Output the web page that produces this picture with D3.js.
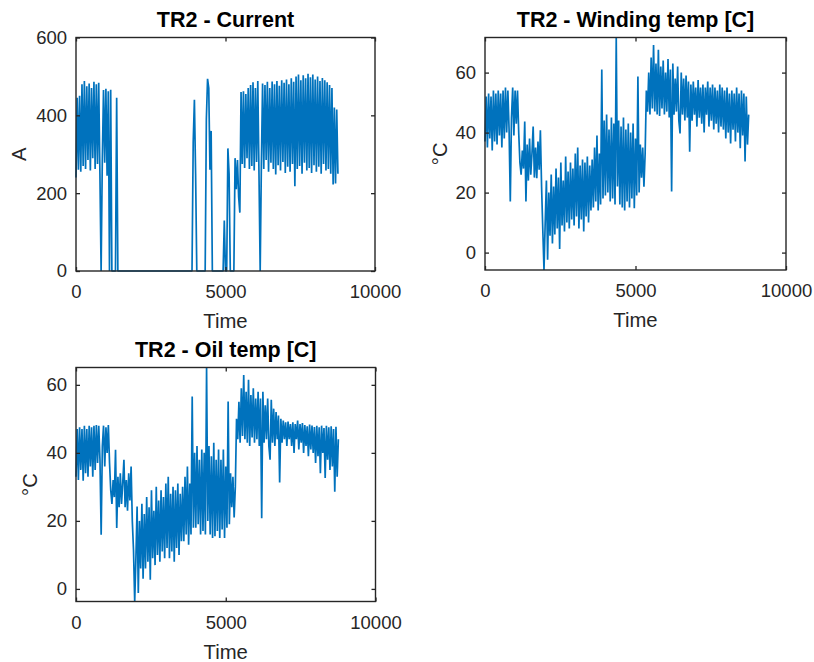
<!DOCTYPE html>
<html>
<head>
<meta charset="utf-8">
<script src="https://cdn.jsdelivr.net/npm/d3@7"></script>
<style>
body { margin: 0; background: #fff; }
text { font-family: Arial, "Liberation Sans", sans-serif; fill: #262626; }
</style>
</head>
<body>
<div id="container"></div>
<script>

// hours between two samples
var timeStep = 40;

// TR2 current [A], one value per sample
var currentA = [
	240, 445, 260, 450, 255, 480, 270, 488, 262, 475,
	285, 482, 258, 470, 290, 486, 262, 480, 275, 484,
	250, 0, 285, 465, 278, 468, 245, 462, 0, 466,
	0, 0, 0, 0, 445, 0, 0, 0, 0, 0,
	0, 0, 0, 0, 0, 0, 0, 0, 0, 0,
	0, 0, 0, 0, 0, 0, 0, 0, 0, 0,
	0, 0, 0, 0, 0, 0, 0, 0, 0, 0,
	0, 0, 0, 0, 0, 0, 0, 0, 0, 0,
	0, 0, 0, 0, 0, 0, 0, 0, 0, 0,
	0, 0, 0, 0, 0, 0, 0, 0, 330, 440,
	250, 0, 0, 0, 0, 0, 0, 0, 0, 390,
	494, 470, 260, 360, 0, 0, 0, 0, 0, 0,
	0, 0, 0, 0, 130, 0, 0, 315, 250, 0,
	0, 0, 0, 290, 210, 285, 190, 150, 460, 275,
	462, 265, 455, 290, 470, 262, 478, 270, 485, 258,
	470, 280, 488, 250, 0, 275, 482, 262, 478, 285,
	486, 255, 470, 278, 487, 262, 480, 248, 488, 272,
	476, 258, 490, 280, 484, 252, 492, 268, 480, 255,
	495, 275, 486, 218, 500, 262, 505, 270, 490, 250,
	503, 278, 495, 258, 507, 265, 498, 252, 505, 272,
	492, 255, 500, 268, 488, 250, 496, 275, 490, 258,
	485, 262, 478, 250, 470, 222, 420, 225, 415, 250
];

// TR2 winding temperature [C]
var windingTemp = [
	37, 52, 35, 53, 38, 52, 34, 54, 37, 53,
	36, 54, 39, 53, 35, 54, 38, 55, 40, 54,
	41, 17, 45, 55, 39, 54, 43, 54, 40, 30,
	26, 34, 28, 43.7, 17, 36, 24, 38, 26, 33,
	42, 25, 35, 24.8, 37, 27.6, 40.8, 21.9, 7.6, -5.8,
	10, 24, -2.4, 20, 5.6, 26, 3, 22, 6, 28,
	8, 25, 1.2, 30, 9, 24, 7, 32, 10, 27,
	8, 30, 11, 28, 9, 33, 12, 35, 8, 29,
	11, 31, 7, 30, 12, 32, 10, 29, 14, 31,
	15, 35, 17, 39, 14, 33, 16, 61, 18, 44,
	19, 46, 20, 41, 17, 45, 18, 43, 16, 71.7,
	22, 44, 16, 42, 15, 45, 14, 41, 17, 43,
	15, 40, 18, 43, 14.8, 38, 19, 58.7, 20, 36,
	25, 35, 22, 33, 54, 47, 60, 46, 65, 48,
	69.2, 47, 63, 46, 67.6, 45.5, 62, 48, 64, 46,
	60, 47, 64.5, 45, 61, 20.4, 63, 46, 58, 47,
	62, 44, 39.7, 60, 46, 58, 44, 59, 45, 57,
	33.6, 56, 44, 57, 46, 55, 42, 57.5, 45, 55,
	43, 56, 40, 55, 46, 57, 42, 55, 44, 56,
	41, 55, 43, 54, 40, 56, 42, 55, 41, 54,
	38, 55, 40, 53, 36.4, 54, 41, 53, 37, 55,
	40, 53, 34.8, 54, 39, 53, 30.4, 52, 36, 46
];

// TR2 oil temperature [C]
var oilTemp = [
	33, 47, 32, 47.5, 35, 47, 31.8, 48, 34, 47,
	33, 48, 36, 47.5, 33, 48, 35, 48.2, 37, 48,
	38, 15.9, 42, 48, 36, 47.5, 40, 48.2, 37, 29,
	25, 32, 27, 40.9, 17.9, 33, 24, 34, 25, 31,
	38, 24, 32, 23, 34, 26, 36, 20, 11.5, -3.7,
	9, 24.2, -1.2, 20, 6, 25, 3, 22, 6, 27,
	8, 24, 2.7, 29, 9, 23, 7, 30, 10, 26,
	8, 29, 11, 27, 9, 31, 12, 33, 9, 28,
	11, 30, 8, 29, 12, 31, 10, 28, 14, 30,
	14, 33, 16, 36, 13, 31, 16, 56.6, 18, 40,
	18, 42, 19, 38, 16, 41, 17, 40, 16, 65.1,
	20, 42, 16, 39, 15, 43, 15.5, 38, 17, 41,
	15, 38, 17.5, 41, 15, 36, 18, 55.1, 19, 34,
	24, 33, 21, 30, 50, 44, 55, 43, 59, 45,
	62.9, 44, 58, 43, 61.5, 42, 57, 44.5, 59, 43,
	56, 44, 58, 42, 56, 20.8, 58, 43, 54, 44,
	56, 42, 38, 55.6, 43, 53, 42, 52, 44, 51,
	31.3, 50, 43, 49.5, 44, 49, 42, 49.2, 44, 48.5,
	42, 49, 40, 48.5, 44, 49.5, 41, 48.5, 43, 48.8,
	40, 48.2, 42, 47.8, 39, 48.3, 41, 48, 40, 47.6,
	37, 48, 39, 47.5, 34, 48, 40, 47.3, 32.6, 48,
	38, 47.5, 35, 47.8, 36, 47, 28.6, 47.7, 33, 44
];

// titles and tick labels
var titles = ["TR2 - Current", "TR2 - Winding temp [C]", "TR2 - Oil temp [C]"];
var yLabels = ["A", "\u00B0C", "\u00B0C"];
var xLabel = "Time";
var xTicks = [0, 5000, 10000];
var currentTicks = [0, 200, 400, 600];
var tempTicks = [0, 20, 40, 60];

// function to draw one subplot
function drawPanel(svg, p) {

	var x = d3.scaleLinear()
		.domain([0, 10000])
		.range([p.left, p.left + p.width]);

	var y = d3.scaleLinear()
		.domain(p.domain)
		.range([p.top + p.height, p.top]);

	var line = d3.line()
		.x(function(d, i) { return x(i * timeStep); })
		.y(function(d) { return y(d); });

	// the series itself, thick enough that the dense swings read as a band
	svg.append("path")
		.datum(p.values)
		.attr("d", line)
		.attr("fill", "none")
		.attr("stroke", "#0072BD")
		.attr("stroke-width", 1.7)
		.attr("stroke-linejoin", "bevel");

	// ticks on all four sides, pointing inwards
	var bottomAxis = svg.append("g")
		.attr("transform", "translate(0," + (p.top + p.height) + ")")
		.call(d3.axisBottom(x).tickValues(xTicks).tickSizeInner(-4).tickSizeOuter(0)
			.tickPadding(14).tickFormat(d3.format("d")));
	var leftAxis = svg.append("g")
		.attr("transform", "translate(" + p.left + ",0)")
		.call(d3.axisLeft(y).tickValues(p.ticks).tickSizeInner(-4).tickSizeOuter(0)
			.tickPadding(9).tickFormat(d3.format("d")));
	var topAxis = svg.append("g")
		.attr("transform", "translate(0," + p.top + ")")
		.call(d3.axisTop(x).tickValues(xTicks).tickSizeInner(-4).tickSizeOuter(0).tickFormat(""));
	var rightAxis = svg.append("g")
		.attr("transform", "translate(" + (p.left + p.width) + ",0)")
		.call(d3.axisRight(y).tickValues(p.ticks).tickSizeInner(-4).tickSizeOuter(0).tickFormat(""));

	[bottomAxis, leftAxis, topAxis, rightAxis].forEach(function(a) {
		a.select(".domain").remove();
		a.selectAll(".tick line").attr("stroke", "#262626").attr("stroke-width", 1.3);
		a.selectAll("text").style("font-size", "18.5px");
	});

	// box around the axes
	svg.append("rect")
		.attr("x", p.left)
		.attr("y", p.top)
		.attr("width", p.width)
		.attr("height", p.height)
		.attr("fill", "none")
		.attr("stroke", "#262626")
		.attr("stroke-width", 1.4);

	// title and axis labels
	svg.append("text")
		.attr("x", p.left + p.width / 2)
		.attr("y", p.top - 11)
		.style("text-anchor", "middle")
		.style("font-size", "21.5px")
		.style("font-weight", "bold")
		.style("fill", "#000")
		.text(p.title);
	svg.append("text")
		.attr("x", p.left + p.width / 2)
		.attr("y", p.top + p.height + 57)
		.style("text-anchor", "middle")
		.style("font-size", "20.3px")
		.text(xLabel);
	svg.append("text")
		.attr("transform", "translate(" + (p.left - p.labelGap) + "," + (p.top + p.height / 2) + ") rotate(-90)")
		.style("text-anchor", "middle")
		.style("font-size", "20.3px")
		.text(p.yLabel);
}

var svg = d3.select("#container")
	.append("svg")
	.attr("width", 814)
	.attr("height", 662)
	.style("background", "#fff");

var panels = [
	{title: titles[0], yLabel: yLabels[0], values: currentA, domain: [0, 600], ticks: currentTicks,
		left: 76, top: 37.5, width: 299, height: 233.5, labelGap: 50},
	{title: titles[1], yLabel: yLabels[1], values: windingTemp, domain: d3.extent(windingTemp), ticks: tempTicks,
		left: 485, top: 37.5, width: 301, height: 232.5, labelGap: 38},
	{title: titles[2], yLabel: yLabels[2], values: oilTemp, domain: d3.extent(oilTemp), ticks: tempTicks,
		left: 76, top: 367.5, width: 299.5, height: 234, labelGap: 39}
];

panels.forEach(function(p) {
	drawPanel(svg, p);
});

</script>
</body>
</html>
